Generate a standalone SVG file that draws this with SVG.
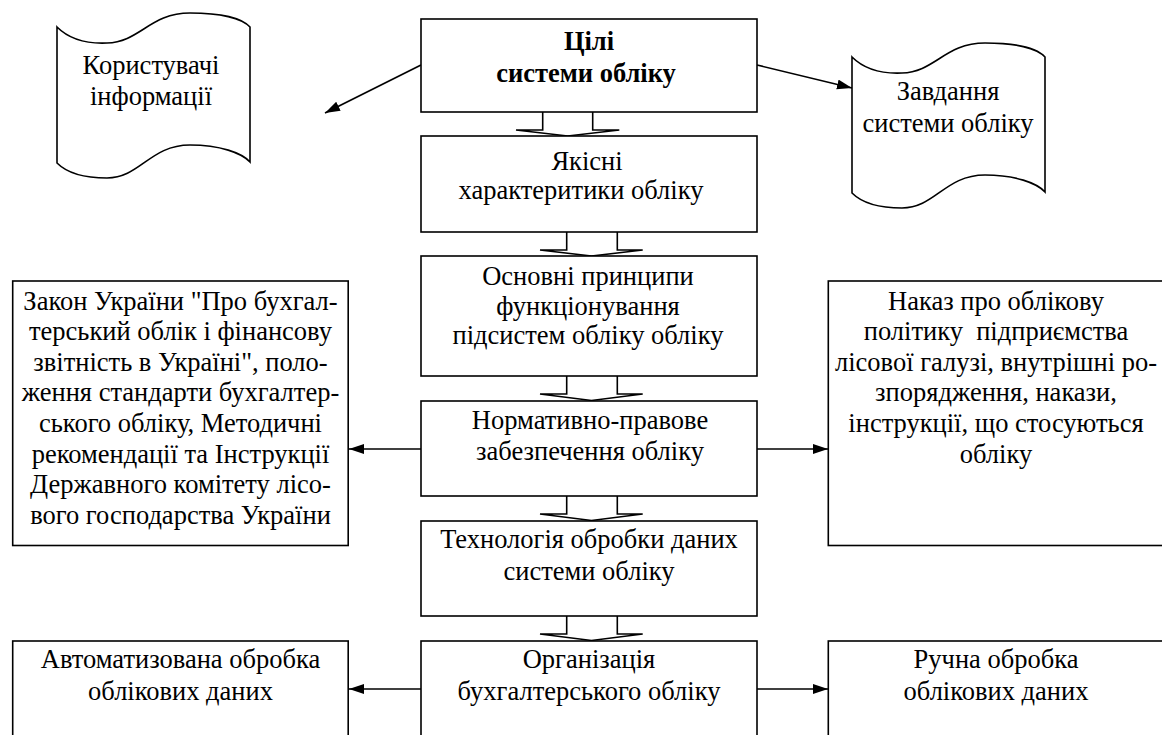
<svg xmlns="http://www.w3.org/2000/svg" width="1162" height="735" viewBox="0 0 1162 735">
<style>
.box{fill:#fff;stroke:#000;stroke-width:1.6}
.doc{fill:#fff;stroke:#000;stroke-width:1.6}
.t{font-size:26.5px;text-anchor:middle;fill:#000}
.b{font-weight:bold}
.con{fill:none;stroke:#000;stroke-width:1.6}
.blk{fill:#fff;stroke:#000;stroke-width:1.6;stroke-linejoin:miter}
</style>
<defs>
<marker id="ah" markerUnits="userSpaceOnUse" markerWidth="16" markerHeight="12" refX="15" refY="5" orient="auto">
<path d="M0,0 L15,5 L0,10 Z" fill="#000"/>
</marker>
<path id="docshape" d="M57,27 C68,38 85,44 107,43 C140,42 150,13 190,13 C220,13 242,18 250,27 L250,162 C242,153 220,145 190,145 C150,145 140,178 107,178 C85,178 68,174 57,163 Z"/>
</defs>
<rect width="1162" height="735" fill="#fff"/>

<g id="connectors">
<path class="blk" d="M542.7,112 V130 H516 L567.7,136 L619.3,130 H592.7 V112"/>
<path class="blk" d="M566.7,232 V250 H540 L591.5,256 L642.7,250 H617.3 V232"/>
<path class="blk" d="M566.7,376 V394 H540 L591.5,400.5 L642.7,394 H617.3 V376"/>
<path class="blk" d="M566.7,496 V514 H540 L591.5,520.5 L642.7,514 H617.3 V496"/>
<path class="blk" d="M566.7,616 V634 H540 L591.5,640.5 L642.7,634 H617.3 V616"/>
<line class="con" x1="421" y1="65" x2="325" y2="113" marker-end="url(#ah)"/>
<line class="con" x1="757" y1="65" x2="852" y2="88" marker-end="url(#ah)"/>
<line class="con" x1="421" y1="449" x2="349" y2="449" marker-end="url(#ah)"/>
<line class="con" x1="757" y1="449" x2="828" y2="449" marker-end="url(#ah)"/>
<line class="con" x1="421" y1="689" x2="349" y2="689" marker-end="url(#ah)"/>
<line class="con" x1="757" y1="689" x2="828" y2="689" marker-end="url(#ah)"/>
</g>

<g font-family="'Liberation Serif', 'Times New Roman', serif">
<g id="users">
<use href="#docshape" class="doc"/>
<text class="t" x="151" y="74">Користувачі</text>
<text class="t" x="151" y="105">інформації</text>
</g>

<g id="tasks">
<use href="#docshape" class="doc" transform="translate(795,30)"/>
<text class="t" x="948" y="100">Завдання</text>
<text class="t" x="948" y="131.5">системи обліку</text>
</g>

<g id="goals">
<rect class="box" x="421" y="19" width="336" height="93"/>
<text class="t b" x="589" y="50">Цілі</text>
<text class="t b" x="586" y="81.5">системи обліку</text>
</g>

<g id="quality">
<rect class="box" x="421" y="136" width="336" height="96"/>
<text class="t" x="587" y="170">Якісні</text>
<text class="t" x="581" y="198.5">характеритики обліку</text>
</g>

<g id="principles">
<rect class="box" x="421" y="256" width="336" height="120"/>
<text class="t" x="588" y="285">Основні принципи</text>
<text class="t" x="588" y="314.5">функціонування</text>
<text class="t" x="588" y="344">підсистем обліку обліку</text>
</g>

<g id="normative">
<rect class="box" x="421" y="401" width="336" height="95"/>
<text class="t" x="590" y="429">Нормативно-правове</text>
<text class="t" x="590" y="460">забезпечення обліку</text>
</g>

<g id="law">
<rect class="box" x="12.7" y="281" width="335.5" height="264.5"/>
<text class="t" x="180.5" y="309.5">Закон України "Про бухгал-</text>
<text class="t" x="180.5" y="340">терський облік і фінансову</text>
<text class="t" x="180.5" y="370.7">звітність в Україні", поло-</text>
<text class="t" x="180.5" y="401.3">ження стандарти бухгалтер-</text>
<text class="t" x="180.5" y="431.9">ського обліку, Методичні</text>
<text class="t" x="180.5" y="462.5">рекомендації та Інструкції</text>
<text class="t" x="180.5" y="493.1">Державного комітету лісо-</text>
<text class="t" x="180.5" y="523.7">вого господарства України</text>
</g>

<g id="order">
<rect class="box" x="828.3" y="281" width="336" height="264.5"/>
<text class="t" x="996" y="309.5">Наказ про облікову</text>
<text class="t" x="996" y="340" xml:space="preserve">політику  підприємства</text>
<text class="t" x="996" y="370.7">лісової галузі, внутрішні ро-</text>
<text class="t" x="996" y="401.3">зпорядження, накази,</text>
<text class="t" x="996" y="431.9">інструкції, що стосуються</text>
<text class="t" x="996" y="462.5">обліку</text>
</g>

<g id="technology">
<rect class="box" x="421" y="521" width="336" height="95"/>
<text class="t" x="589" y="548.3">Технологія обробки даних</text>
<text class="t" x="589" y="580">системи обліку</text>
</g>

<g id="organization">
<rect class="box" x="421" y="641" width="336" height="96"/>
<text class="t" x="589" y="668.3">Організація</text>
<text class="t" x="589" y="700">бухгалтерського обліку</text>
</g>

<g id="automated">
<rect class="box" x="12.7" y="641" width="335.5" height="96"/>
<text class="t" x="180.5" y="668.3">Автоматизована обробка</text>
<text class="t" x="180.5" y="700">облікових даних</text>
</g>

<g id="manual">
<rect class="box" x="828.3" y="641" width="336" height="96"/>
<text class="t" x="996" y="668.3">Ручна обробка</text>
<text class="t" x="996" y="700">облікових даних</text>
</g>
</g>
</svg>
